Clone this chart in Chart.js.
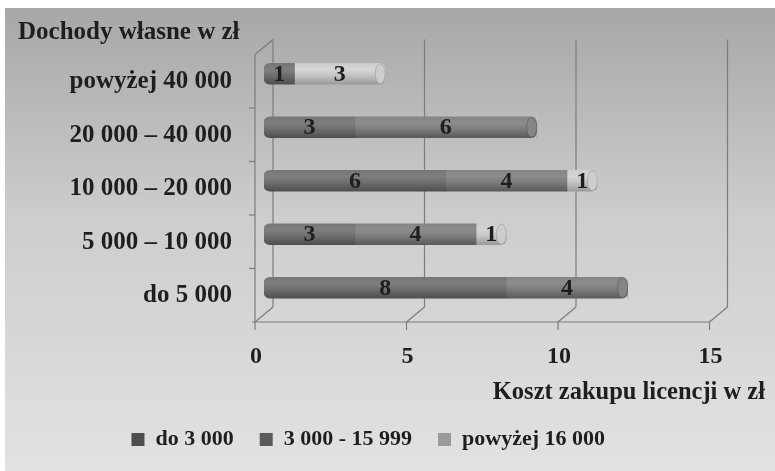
<!DOCTYPE html>
<html>
<head>
<meta charset="utf-8">
<script src="https://cdn.jsdelivr.net/npm/chart.js@4"></script>
<style>
  html, body { margin: 0; padding: 0; background: #ffffff; }
  #wrap { width: 775px; height: 471px; }
</style>
</head>
<body>
<div id="wrap"><canvas id="chart" width="775" height="471"></canvas></div>
<script>
// Income groups (top to bottom) and the three licence-cost series
const categories = ['powyżej 40 000', '20 000 – 40 000', '10 000 – 20 000', '5 000 – 10 000', 'do 5 000'];
const seriesNames = ['do 3 000', '3 000 - 15 999', 'powyżej 16 000'];
const seriesLow = [1, 3, 6, 3, 8];
const seriesMid = [0, 6, 4, 4, 4];
const seriesHigh = [3, 0, 1, 1, 0];
const axisMax = 15;
const axisStep = 5;
const incomeTitle = 'Dochody własne w zł';
const costTitle = 'Koszt zakupu licencji w zł';

const FONT = 'Liberation Serif';
const TEXT = '#1e1e1e';
const BAR_H = 21;       // cylinder thickness
const OX = 9, OY = 7.5; // oblique depth offset of the walls

const shades = [
  { flat: '#6d6d6d', edge: '#777777', light: '#7e7e7e', dark: '#4e4e4e' },
  { flat: '#7b7b7b', edge: '#858585', light: '#8c8c8c', dark: '#5a5a5a' },
  { flat: '#c2c2c2', edge: '#cdcdcd', light: '#d6d6d6', dark: '#9a9a9a' }
];

function cylinderFill(s) {
  return (ctx) => {
    if (ctx.type !== 'data') return s.flat;
    const y = ctx.chart.scales.y;
    if (!y) return s.flat;
    const yc = y.getPixelForValue(ctx.dataIndex);
    if (!Number.isFinite(yc)) return s.flat;
    const g = ctx.chart.ctx.createLinearGradient(0, yc - BAR_H / 2, 0, yc + BAR_H / 2);
    g.addColorStop(0, s.edge);
    g.addColorStop(0.3, s.light);
    g.addColorStop(0.6, s.flat);
    g.addColorStop(1, s.dark);
    return g;
  };
}

function roundedEnds(ctx) {
  const r = { topLeft: 0, bottomLeft: 0, topRight: 0, bottomRight: 0 };
  if (ctx.type !== 'data') return r;
  const i = ctx.dataIndex;
  const nz = ctx.chart.data.datasets.map(ds => ds.data[i] > 0);
  if (ctx.datasetIndex === nz.indexOf(true)) { r.topLeft = 6; r.bottomLeft = 6; }
  if (ctx.datasetIndex === nz.lastIndexOf(true)) { r.topRight = 6; r.bottomRight = 6; }
  return r;
}

const backdrop = {
  id: 'backdrop',
  beforeDraw(chart) {
    const c = chart.ctx;
    c.save();
    c.fillStyle = '#ffffff';
    c.fillRect(0, 0, chart.width, chart.height);
    const g = c.createLinearGradient(0, 8, 0, chart.height);
    g.addColorStop(0, '#a7a7a9');
    g.addColorStop(0.45, '#cdcdcd');
    g.addColorStop(1, '#e2e2e2');
    c.fillStyle = g;
    c.fillRect(5, 8, chart.width - 5, chart.height - 8);
    c.restore();
  }
};

const walls = {
  id: 'walls',
  beforeDatasetsDraw(chart) {
    const c = chart.ctx, xs = chart.scales.x, ys = chart.scales.y, a = chart.chartArea;
    const line = (x1, y1, x2, y2) => { c.beginPath(); c.moveTo(x1, y1); c.lineTo(x2, y2); c.stroke(); };
    c.save();
    c.strokeStyle = '#7c7c7c';
    c.lineWidth = 1.2;
    const x0 = xs.getPixelForValue(xs.min), xN = xs.getPixelForValue(xs.max);
    xs.ticks.forEach(t => {
      const px = xs.getPixelForValue(t.value);
      line(px + OX, a.top - OY, px + OX, a.bottom - OY);
      line(px + OX, a.bottom - OY, px - OX, a.bottom + OY);
      line(px - OX, a.bottom + OY, px - OX, a.bottom + OY + 8);
    });
    line(x0 - OX - 3, a.bottom + OY, xN - OX, a.bottom + OY);
    line(x0 - OX, a.top + OY, x0 - OX, a.bottom + OY);
    line(x0 - OX, a.top + OY, x0 + OX, a.top - OY);
    for (let i = 0; i < ys.ticks.length - 1; i++) {
      const yb = (ys.getPixelForValue(i) + ys.getPixelForValue(i + 1)) / 2 + OY;
      line(x0 - OX - 6, yb, x0 - OX, yb);
    }
    c.restore();
  }
};

const valueLabels = {
  id: 'valueLabels',
  afterDatasetsDraw(chart) {
    const c = chart.ctx;
    c.save();
    // end face of each cylinder
    chart.data.labels.forEach((_, i) => {
      let last = -1;
      chart.data.datasets.forEach((ds, d) => { if (ds.data[i] > 0) last = d; });
      if (last < 0) return;
      const el = chart.getDatasetMeta(last).data[i];
      const s = shades[last];
      c.beginPath();
      c.ellipse(el.x - 5, el.y, 5, BAR_H / 2 - 0.5, 0, 0, Math.PI * 2);
      c.fillStyle = s.edge;
      c.fill();
      c.strokeStyle = s.dark;
      c.globalAlpha = 0.6;
      c.lineWidth = 1;
      c.stroke();
      c.globalAlpha = 1;
    });
    c.font = 'bold 24px "' + FONT + '"';
    c.fillStyle = TEXT;
    c.textAlign = 'center';
    c.textBaseline = 'middle';
    chart.data.datasets.forEach((ds, d) => {
      chart.getDatasetMeta(d).data.forEach((el, i) => {
        const v = ds.data[i];
        if (!(v > 0)) return;
        c.fillText(String(v), (el.x + el.base) / 2, el.y + 1);
      });
    });
    c.restore();
  }
};

const axisCaption = {
  id: 'axisCaption',
  afterDraw(chart) {
    const c = chart.ctx;
    c.save();
    c.font = 'bold 24.5px "' + FONT + '"';
    c.fillStyle = TEXT;
    c.textAlign = 'right';
    c.textBaseline = 'middle';
    c.fillText(costTitle, 765, 393);
    c.restore();
  }
};

const PLOT_BOTTOM = 314.5;
const PAD_BOTTOM = 10.5;

new Chart(document.getElementById('chart'), {
  type: 'bar',
  data: {
    labels: categories,
    datasets: [
      { label: seriesNames[0], data: seriesLow, backgroundColor: cylinderFill(shades[0]) },
      { label: seriesNames[1], data: seriesMid, backgroundColor: cylinderFill(shades[1]) },
      { label: seriesNames[2], data: seriesHigh, backgroundColor: cylinderFill(shades[2]) }
    ]
  },
  options: {
    indexAxis: 'y',
    responsive: false,
    animation: false,
    devicePixelRatio: 1,
    layout: { padding: { left: 18, right: 56.5, top: 0, bottom: PAD_BOTTOM } },
    datasets: {
      bar: { barThickness: BAR_H, borderSkipped: false, borderRadius: roundedEnds, borderWidth: 0 }
    },
    scales: {
      x: {
        stacked: true,
        min: 0,
        max: axisMax,
        grid: { display: false, drawTicks: false },
        border: { display: false },
        ticks: {
          stepSize: axisStep,
          padding: 28,
          labelOffset: -8,
          color: TEXT,
          font: { family: FONT, size: 24, weight: 'bold' }
        },
        afterFit(s) {
          const lg = s.chart.legend;
          s.height = s.chart.height - PAD_BOTTOM - (lg ? lg.height : 0) - PLOT_BOTTOM;
        }
      },
      y: {
        stacked: true,
        grid: { display: false, drawTicks: false },
        border: { display: false },
        ticks: {
          padding: 32,
          labelOffset: 8,
          color: TEXT,
          font: { family: FONT, size: 25, weight: 'bold' }
        },
        afterFit(s) { s.width = 246; }
      }
    },
    plugins: {
      title: {
        display: true,
        text: incomeTitle,
        align: 'start',
        color: TEXT,
        font: { family: FONT, size: 25, weight: 'bold', lineHeight: 1.1 },
        padding: { top: 17, bottom: 1 }
      },
      legend: {
        position: 'bottom',
        labels: {
          boxWidth: 13,
          boxHeight: 13,
          padding: 26,
          color: TEXT,
          font: { family: FONT, size: 22, weight: 'bold' }
        }
      },
      tooltip: { enabled: false }
    }
  },
  plugins: [backdrop, walls, valueLabels, axisCaption]
});
</script>
</body>
</html>
